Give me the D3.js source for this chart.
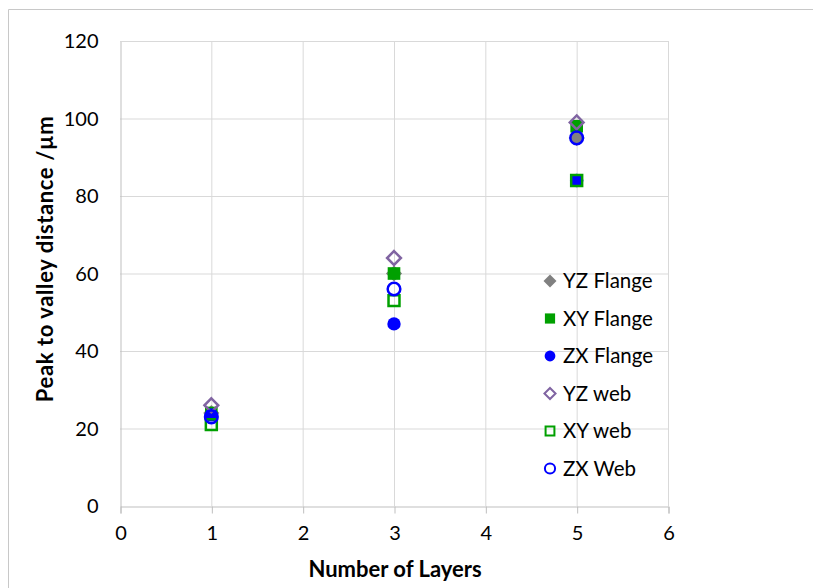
<!DOCTYPE html>
<html>
<head>
<meta charset="utf-8">
<script src="https://cdn.jsdelivr.net/npm/d3@7"></script>
<style>
  body { margin: 0; background: #fff; }
  text { font-family: Lato, "Open Sans", sans-serif; fill: #000; }
</style>
</head>
<body>
<svg width="813" height="588"></svg>
<script>
// data
var layers = [1, 3, 5];
var yzFlange = [24, 60, 95];
var xyFlange = [24, 60, 98];
var zxFlange = [23.5, 47, 84];
var yzWeb = [26, 64, 99];
var xyWeb = [21, 53, 84];
var zxWeb = [23, 56, 95];

var xTicks = [0, 1, 2, 3, 4, 5, 6];
var yTicks = [0, 20, 40, 60, 80, 100, 120];

// square turned 45 degrees, like the spreadsheet diamond marker
var diamond = {
  draw: function(context, size) {
    var r = Math.sqrt(size / 2);
    context.moveTo(0, -r);
    context.lineTo(r, 0);
    context.lineTo(0, r);
    context.lineTo(-r, 0);
    context.closePath();
  }
};

var series = [
  {name: "YZ Flange", values: yzFlange, shape: diamond, fill: "#808080", stroke: "none", size: 130},
  {name: "XY Flange", values: xyFlange, shape: d3.symbolSquare, fill: "#00a000", stroke: "none", size: 160},
  {name: "ZX Flange", values: zxFlange, shape: d3.symbolCircle, fill: "#0000ff", stroke: "none", size: 140},
  {name: "YZ web", values: yzWeb, shape: diamond, fill: "none", stroke: "#8064a2", size: 95},
  {name: "XY web", values: xyWeb, shape: d3.symbolSquare, fill: "none", stroke: "#00a000", size: 120},
  {name: "ZX Web", values: zxWeb, shape: d3.symbolCircle, fill: "none", stroke: "#0000ff", size: 125}
];

var svg = d3.select("svg");

// outer chart frame
svg.append("path")
  .attr("d", "M8.5,588 V9.5 H813")
  .attr("fill", "none")
  .attr("stroke", "#c8c8c8");

var x = d3.scaleLinear().domain([0, 6]).range([120, 668]);
var y = d3.scaleLinear().domain([0, 120]).range([506, 41]);

// gridlines
svg.append("g").selectAll("line")
  .data(yTicks.slice(1))
  .enter().append("line")
  .attr("x1", x(0)).attr("x2", x(6))
  .attr("y1", function(d) { return y(d) + 0.5; })
  .attr("y2", function(d) { return y(d) + 0.5; })
  .attr("stroke", "#d9d9d9");

svg.append("g").selectAll("line")
  .data(xTicks.slice(1))
  .enter().append("line")
  .attr("y1", y(0)).attr("y2", y(120))
  .attr("x1", function(d) { return x(d) + 0.5; })
  .attr("x2", function(d) { return x(d) + 0.5; })
  .attr("stroke", "#d9d9d9");

// axes
var xAxis = d3.axisBottom(x).tickValues(xTicks).tickFormat(d3.format("d")).tickSize(7).tickPadding(12);
var gx = svg.append("g")
  .attr("transform", "translate(0.5," + (y(0) + 0.5) + ")")
  .call(xAxis);
gx.select(".domain").attr("stroke", "#bfbfbf");
gx.selectAll(".tick line").attr("stroke", "#bfbfbf");
gx.selectAll("text").style("font-size", "20px").attr("fill", "#000");

var yAxis = d3.axisLeft(y).tickValues(yTicks).tickSize(0).tickPadding(22);
var gy = svg.append("g")
  .attr("transform", "translate(" + (x(0) + 0.5) + ",0.5)")
  .call(yAxis);
gy.select(".domain").attr("stroke", "#bfbfbf");
gy.selectAll("text").style("font-size", "20px").attr("fill", "#000");

// axis titles
svg.append("text")
  .attr("x", 395).attr("y", 577)
  .attr("text-anchor", "middle")
  .style("font-size", "22px").style("font-weight", "bold")
  .text("Number of Layers");

svg.append("text")
  .attr("transform", "translate(53,259) rotate(-90)")
  .attr("text-anchor", "middle")
  .style("font-size", "22px").style("font-weight", "bold")
  .style("letter-spacing", "0.6px")
  .text("Peak to valley distance /\u00b5m");

// points
series.forEach(function(s) {
  var sym = d3.symbol().type(s.shape).size(s.size);
  svg.append("g").selectAll("path")
    .data(s.values)
    .enter().append("path")
    .attr("d", sym)
    .attr("transform", function(d, i) { return "translate(" + x(layers[i]) + "," + y(d) + ")"; })
    .attr("fill", s.fill)
    .attr("stroke", s.stroke)
    .attr("stroke-width", 2.5);
});

// legend
var legend = svg.append("g").attr("transform", "translate(550,281)");
series.forEach(function(s, i) {
  var row = legend.append("g").attr("transform", "translate(0," + (i * 37.5) + ")");
  row.append("path")
    .attr("d", d3.symbol().type(s.shape).size(s.size * 0.65))
    .attr("fill", s.fill)
    .attr("stroke", s.stroke)
    .attr("stroke-width", 2);
  row.append("text")
    .attr("x", 13).attr("y", 7)
    .style("font-size", "20.5px")
    .text(s.name);
});
</script>
</body>
</html>
